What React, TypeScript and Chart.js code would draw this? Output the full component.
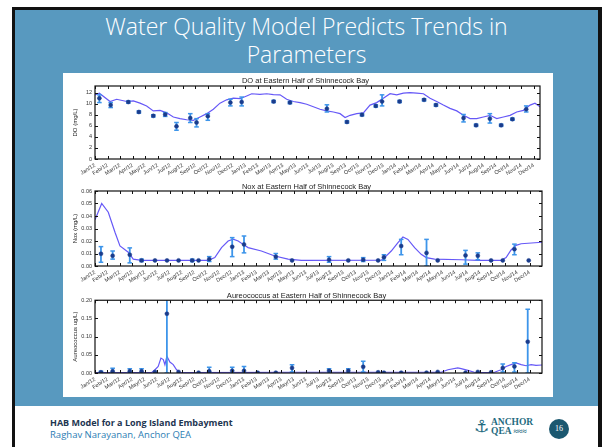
import React, { useEffect, useRef } from 'react';
import { Chart, registerables } from 'chart.js';

Chart.register(...registerables);

// ---------- tick labels ----------
const MONTHS = [
  'Jan/12', 'Feb/12', 'Mar/12', 'Apr/12', 'May/12', 'Jun/12', 'Jul/12', 'Aug/12', 'Sep/12', 'Oct/12', 'Nov/12', 'Dec/12',
  'Jan/13', 'Feb/13', 'Mar/13', 'Apr/13', 'May/13', 'Jun/13', 'Jul/13', 'Aug/13', 'Sep/13', 'Oct/13', 'Nov/13', 'Dec/13',
  'Jan/14', 'Feb/14', 'Mar/14', 'Apr/14', 'May/14', 'Jun/14', 'Jul/14', 'Aug/14', 'Sep/14', 'Oct/14', 'Nov/14', 'Dec/14',
];
const DO_Y_TICKS = [0, 2, 4, 6, 8, 10, 12];
const NOX_Y_TICKS = [0, 0.01, 0.02, 0.03, 0.04, 0.05, 0.06];
const AUR_Y_TICKS = [0, 0.05, 0.1, 0.15, 0.2];

// ---------- DO (time in months since Jan 2012) ----------
const DO_MODEL_T = [0, 0.35, 1.2, 1.73, 2.53, 3.06, 3.59, 4.12, 4.65, 5.19, 5.72, 6.25, 6.78, 7.31, 7.85, 8.38, 8.91, 9.44, 9.97, 10.5, 11.04, 11.57, 12.1, 12.5, 13.16, 13.7, 14.23, 14.76, 15.29, 15.82, 16.36, 16.89, 17.42, 17.95, 18.48, 19.02, 19.55, 19.95, 20.35, 20.88, 21.41, 21.94, 22.47, 23.0, 23.54, 24.07, 24.6, 25.13, 25.66, 26.2, 26.73, 27.26, 27.79, 28.32, 28.86, 29.39, 29.92, 30.45, 30.98, 31.52, 32.05, 32.58, 33.11, 33.64, 34.18, 34.71, 35.1, 35.5];
const DO_MODEL_V = [11.6, 11.9, 10.4, 10.8, 10.4, 10.5, 10.1, 9.6, 8.7, 8.8, 8.35, 7.6, 7.3, 7.1, 7.0, 7.6, 8.2, 9.0, 10.1, 10.7, 11.0, 10.9, 11.4, 11.8, 11.7, 11.8, 11.65, 11.6, 10.8, 10.4, 10.2, 9.9, 9.45, 9.0, 8.7, 8.5, 8.2, 7.5, 7.9, 8.2, 8.35, 9.75, 10.2, 11.0, 11.8, 11.6, 11.9, 12.0, 11.9, 11.8, 11.0, 10.4, 9.75, 9.15, 8.7, 7.9, 7.3, 7.3, 7.6, 7.9, 7.3, 7.6, 7.9, 8.5, 8.8, 9.75, 10.1, 9.45];
const DO_OBS_T = [0.35, 1.25, 2.66, 3.5, 4.65, 5.6, 6.5, 7.6, 8.1, 9.0, 10.8, 11.7, 14.25, 15.55, 18.5, 20.1, 21.3, 22.4, 22.9, 24.3, 26.25, 27.2, 29.4, 30.4, 31.5, 32.4, 33.3, 34.4];
const DO_OBS_V = [11.0, 9.75, 10.3, 8.5, 7.8, 8.05, 5.9, 7.4, 6.6, 7.75, 10.2, 10.3, 10.4, 10.2, 9.1, 6.7, 8.0, 9.6, 10.4, 10.4, 10.7, 9.75, 7.4, 6.1, 7.3, 6.1, 7.2, 9.0];
const DO_OBS_LO = [10.2, 9.3, 10.1, 8.3, 7.6, 7.7, 5.2, 6.6, 5.8, 7.0, 9.6, 9.6, 10.2, 10.0, 8.5, 6.5, 7.8, 9.4, 9.6, 10.2, 10.5, 9.55, 6.7, 5.9, 6.5, 5.9, 7.0, 8.5];
const DO_OBS_HI = [11.6, 10.2, 10.5, 8.7, 8.0, 8.4, 6.6, 8.2, 7.3, 8.2, 10.8, 11.2, 10.6, 10.4, 9.8, 6.9, 8.2, 9.8, 11.6, 10.6, 10.9, 9.95, 8.05, 6.3, 8.2, 6.3, 7.4, 9.6];

// ---------- NOx ----------
const NOX_MODEL_T = [0, 0.54, 1.07, 1.61, 2.01, 2.68, 3.08, 3.75, 9.12, 9.65, 10.19, 10.72, 11.13, 11.53, 11.93, 12.33, 13.4, 14.48, 15.55, 16.62, 23.06, 23.32, 23.86, 24.4, 24.8, 25.2, 25.74, 26.27, 26.68, 27.35, 29.49, 30.83, 32.71, 33.11, 33.51, 33.91, 34.32, 36];
const NOX_MODEL_V = [0.037, 0.05, 0.043, 0.027, 0.016, 0.011, 0.0055, 0.0045, 0.0045, 0.0067, 0.0147, 0.02, 0.0215, 0.02, 0.0173, 0.0147, 0.012, 0.008, 0.0055, 0.0045, 0.0047, 0.0067, 0.012, 0.0187, 0.0232, 0.0213, 0.0147, 0.0093, 0.0067, 0.0055, 0.005, 0.0045, 0.0045, 0.0067, 0.0128, 0.0165, 0.0178, 0.019];
const NOX_OBS_T = [0.48, 1.42, 2.8, 3.75, 4.83, 5.8, 6.73, 7.83, 8.34, 9.2, 11.05, 12.0, 14.56, 15.87, 18.85, 20.4, 21.6, 22.8, 23.27, 24.66, 26.7, 27.6, 29.84, 30.83, 31.9, 32.84, 33.78, 34.93];
const NOX_OBS_V = [0.0098, 0.0082, 0.009, 0.0045, 0.0045, 0.0045, 0.0045, 0.0045, 0.0045, 0.0055, 0.0154, 0.0173, 0.0075, 0.0045, 0.005, 0.0045, 0.005, 0.0045, 0.007, 0.016, 0.0105, 0.0045, 0.0085, 0.0082, 0.0045, 0.0045, 0.0135, 0.0045];
const NOX_OBS_LO = [0.003, 0.0055, 0.0025, 0.0035, null, null, null, 0.0035, null, 0.0036, 0.0075, 0.0105, 0.0055, null, 0.003, null, 0.0036, null, 0.0045, 0.009, 0, null, 0.0015, 0.005, null, null, 0.009, null];
const NOX_OBS_HI = [0.0155, 0.012, 0.0145, 0.0055, null, null, null, 0.0055, null, 0.0075, 0.0227, 0.024, 0.01, null, 0.0075, null, 0.0067, null, 0.009, 0.0213, 0.0213, null, 0.0125, 0.0105, null, null, 0.0175, null];

// ---------- Aureococcus ----------
const AUR_MODEL_T = [0, 4.56, 4.83, 5.09, 5.31, 5.5, 5.63, 5.79, 6.03, 6.3, 6.57, 6.84, 7.24, 15.82, 27.88, 28.42, 29.22, 29.49, 30.03, 30.56, 31.1, 32.17, 32.71, 33.11, 33.51, 33.91, 34.32, 34.72, 35.12, 35.52, 36];
const AUR_MODEL_V = [0.001, 0.001, 0.009, 0.018, 0.041, 0.037, 0.023, 0.046, 0.03, 0.023, 0.009, 0.002, 0.001, 0.002, 0.002, 0.009, 0.014, 0.012, 0.007, 0.002, 0.001, 0.002, 0.009, 0.018, 0.023, 0.028, 0.023, 0.02, 0.023, 0.021, 0.022];
const AUR_OBS_T = [0.48, 1.42, 2.8, 3.75, 4.83, 5.79, 6.73, 8.34, 9.2, 11.05, 12.0, 13.1, 14.56, 15.87, 18.85, 20.4, 21.6, 22.8, 23.27, 24.66, 26.7, 27.6, 29.84, 30.83, 31.9, 32.84, 33.78, 34.85];
const AUR_OBS_V = [0.002, 0.005, 0.005, 0.005, 0.003, 0.163, 0.003, 0.001, 0.005, 0.006, 0.006, 0.001, 0.001, 0.014, 0.006, 0.006, 0.017, 0.002, 0.001, 0.001, 0.001, 0.003, 0.001, 0.003, 0.002, 0.014, 0.018, 0.086];
const AUR_OBS_LO = [0, 0, 0, 0, null, 0, null, null, 0, 0, 0, null, null, 0.003, 0, 0, 0.003, null, null, null, null, null, null, null, null, 0.003, 0.003, 0];
const AUR_OBS_HI = [0.005, 0.013, 0.012, 0.012, null, 0.21, null, null, 0.016, 0.016, 0.018, null, null, 0.023, 0.012, 0.012, 0.032, null, null, null, null, null, null, null, null, 0.025, 0.028, 0.175];

const FONT = "'Liberation Sans', Arial, sans-serif";
const MODEL_COLOR = '#6658f7';
const ERR_COLOR = '#3d95ea';
const OBS_COLOR = '#1a3c8c';

const framePlugin = {
  id: 'frame',
  afterDraw(chart: any) {
    const { ctx, chartArea: a, scales } = chart;
    ctx.save();
    ctx.strokeStyle = '#111';
    ctx.lineWidth = 1.2;
    ctx.strokeRect(a.left, a.top, a.right - a.left, a.bottom - a.top);
    ctx.lineWidth = 1;
    ctx.beginPath();
    const xs = scales.x;
    const ys = scales.y;
    xs.ticks.forEach((t: any) => {
      const px = Math.round(xs.getPixelForValue(t.value)) + 0.5;
      ctx.moveTo(px, a.bottom);
      ctx.lineTo(px, a.bottom - 3);
      ctx.moveTo(px, a.top);
      ctx.lineTo(px, a.top + 3);
    });
    ys.ticks.forEach((t: any) => {
      const py = Math.round(ys.getPixelForValue(t.value)) + 0.5;
      ctx.moveTo(a.left, py);
      ctx.lineTo(a.left + 3, py);
      ctx.moveTo(a.right, py);
      ctx.lineTo(a.right - 3, py);
    });
    ctx.stroke();
    ctx.restore();
  },
};

function pts(t: number[], v: number[]) {
  return t.map((x, i) => ({ x, y: v[i] }));
}

function errPts(t: number[], lo: (number | null)[], hi: (number | null)[]) {
  const out: any[] = [];
  t.forEach((x, i) => {
    if (lo[i] == null || hi[i] == null) return;
    out.push({ x, y: lo[i] }, { x, y: hi[i] }, { x, y: null });
  });
  return out;
}

type Spec = {
  title: string;
  yTitle: string;
  yTicks: number[];
  yMax: number;
  xMax: number;
  decimals: number;
  modelT: number[];
  modelV: number[];
  obsT: number[];
  obsV: number[];
  obsLo: (number | null)[];
  obsHi: (number | null)[];
  titlePadTop: number;
  titlePadBottom: number;
  padRight: number;
  xAxisHeight: number;
};

function ChartPanel({ spec, top, height }: { spec: Spec; top: number; height: number }) {
  const ref = useRef<HTMLCanvasElement | null>(null);
  useEffect(() => {
    if (!ref.current) return;
    const chart = new Chart(ref.current, {
      type: 'line',
      data: {
        datasets: [
          {
            label: 'obs',
            data: pts(spec.obsT, spec.obsV),
            showLine: false,
            pointRadius: 2,
            pointBackgroundColor: OBS_COLOR,
            pointBorderColor: OBS_COLOR,
            pointBorderWidth: 0.5,
          },
          {
            label: 'err',
            data: errPts(spec.obsT, spec.obsLo, spec.obsHi),
            borderColor: ERR_COLOR,
            borderWidth: 1.8,
            spanGaps: false,
            pointStyle: 'line',
            pointRadius: 2.3,
            pointBorderColor: ERR_COLOR,
            pointBorderWidth: 1.5,
          },
          {
            label: 'model',
            data: pts(spec.modelT, spec.modelV),
            borderColor: MODEL_COLOR,
            borderWidth: 1.2,
            pointRadius: 0,
            tension: 0,
          },
        ],
      } as any,
      options: {
        animation: false,
        responsive: false,
        events: [],
        layout: { padding: { left: 8, right: spec.padRight, top: 0, bottom: 0 } },
        plugins: {
          legend: { display: false },
          tooltip: { enabled: false },
          title: {
            display: true,
            text: spec.title,
            color: '#222',
            font: { family: FONT, size: 7.5, weight: 'normal', lineHeight: 1 },
            padding: { top: spec.titlePadTop, bottom: spec.titlePadBottom },
          },
        },
        scales: {
          x: {
            type: 'linear',
            min: 0,
            max: spec.xMax,
            grid: { display: false, drawTicks: false },
            border: { display: false },
            afterBuildTicks: (s: any) => {
              s.ticks = MONTHS.map((_, i) => ({ value: i }));
            },
            afterFit: (s: any) => {
              s.height = spec.xAxisHeight;
            },
            ticks: {
              autoSkip: false,
              maxRotation: 32,
              minRotation: 32,
              padding: 3,
              color: '#333',
              font: { family: FONT, size: 5.5 },
              callback: (v: any) => MONTHS[v] ?? '',
            },
          },
          y: {
            type: 'linear',
            min: 0,
            max: spec.yMax,
            grid: { display: false, drawTicks: false },
            border: { display: false },
            afterBuildTicks: (s: any) => {
              s.ticks = spec.yTicks.map((value) => ({ value }));
            },
            afterFit: (s: any) => {
              s.width = 24;
            },
            ticks: {
              padding: 3,
              color: '#333',
              font: { family: FONT, size: 5.5 },
              callback: (v: any) => Number(v).toFixed(spec.decimals),
            },
            title: {
              display: true,
              text: spec.yTitle,
              color: '#222',
              font: { family: FONT, size: 6, lineHeight: 1 },
              padding: { top: 1, bottom: 0 },
            },
          },
        },
      } as any,
      plugins: [framePlugin],
    });
    return () => chart.destroy();
  }, [spec]);
  return (
    <canvas
      ref={ref}
      width={489}
      height={height}
      style={{ position: 'absolute', left: 63, top, width: 489, height }}
    />
  );
}

const DO_SPEC: Spec = {
  title: 'DO at Eastern Half of Shinnecock Bay',
  yTitle: 'DO (mg/L)',
  yTicks: DO_Y_TICKS,
  yMax: 13.2,
  xMax: 35.5,
  decimals: 0,
  modelT: DO_MODEL_T,
  modelV: DO_MODEL_V,
  obsT: DO_OBS_T,
  obsV: DO_OBS_V,
  obsLo: DO_OBS_LO,
  obsHi: DO_OBS_HI,
  titlePadTop: 4,
  titlePadBottom: 1.5,
  padRight: 12,
  xAxisHeight: 21,
};

const NOX_SPEC: Spec = {
  title: 'Nox at Eastern Half of Shinnecock Bay',
  yTitle: 'Nox (mg/L)',
  yTicks: NOX_Y_TICKS,
  yMax: 0.06,
  xMax: 36,
  decimals: 2,
  modelT: NOX_MODEL_T,
  modelV: NOX_MODEL_V,
  obsT: NOX_OBS_T,
  obsV: NOX_OBS_V,
  obsLo: NOX_OBS_LO,
  obsHi: NOX_OBS_HI,
  titlePadTop: 3.5,
  titlePadBottom: 0,
  padRight: 10,
  xAxisHeight: 21,
};

const AUR_SPEC: Spec = {
  title: 'Aureococcus at Eastern Half of Shinnecock Bay',
  yTitle: 'Aureococcus ug/L)',
  yTicks: AUR_Y_TICKS,
  yMax: 0.2,
  xMax: 36,
  decimals: 2,
  modelT: AUR_MODEL_T,
  modelV: AUR_MODEL_V,
  obsT: AUR_OBS_T,
  obsV: AUR_OBS_V,
  obsLo: AUR_OBS_LO,
  obsHi: AUR_OBS_HI,
  titlePadTop: 4.75,
  titlePadBottom: 1,
  padRight: 10,
  xAxisHeight: 21,
};

export default function App() {
  return (
    <div
      style={{
        position: 'fixed',
        left: 0,
        top: 0,
        width: 602,
        height: 447,
        background: '#ffffff',
        overflow: 'hidden',
      }}
    >
      {/* black frame */}
      <div style={{ position: 'absolute', left: 12, top: 7, width: 590, height: 440, background: '#111' }} />
      {/* blue slide area */}
      <div style={{ position: 'absolute', left: 15, top: 10, width: 583, height: 396, background: '#5899bf' }} />
      {/* footer white */}
      <div style={{ position: 'absolute', left: 15, top: 406, width: 583, height: 41, background: '#ffffff' }} />
      {/* slide title */}
      <div
        style={{
          position: 'absolute',
          left: 15,
          width: 583,
          top: 12,
          textAlign: 'center',
          color: '#ffffff',
          fontFamily: "'Open Sans', sans-serif",
          fontWeight: 300,
          fontSize: 23,
          lineHeight: '28px',
        }}
      >
        <div>Water Quality Model Predicts Trends in</div>
        <div>Parameters</div>
      </div>
      {/* white chart panel */}
      <div style={{ position: 'absolute', left: 63, top: 73, width: 490, height: 324, background: '#ffffff' }} />
      <ChartPanel spec={DO_SPEC} top={73} height={107} />
      <ChartPanel spec={NOX_SPEC} top={180} height={107} />
      <ChartPanel spec={AUR_SPEC} top={287} height={107} />
      {/* footer text */}
      <div
        style={{
          position: 'absolute',
          left: 50,
          top: 417,
          fontFamily: "'Open Sans', sans-serif",
          fontSize: 9,
          fontWeight: 700,
          color: '#1d3550',
          lineHeight: '12px',
          whiteSpace: 'nowrap',
        }}
      >
        HAB Model for a Long Island Embayment
      </div>
      <div
        style={{
          position: 'absolute',
          left: 50,
          top: 429,
          fontFamily: "'Open Sans', sans-serif",
          fontSize: 9.5,
          color: '#2c7db3',
          lineHeight: '12px',
          whiteSpace: 'nowrap',
        }}
      >
        Raghav Narayanan, Anchor QEA
      </div>
      {/* logo */}
      <div
        style={{
          position: 'absolute',
          left: 474,
          top: 416,
          fontFamily: "'DejaVu Sans', sans-serif",
          fontSize: 17,
          lineHeight: '20px',
          color: '#1f6b80',
        }}
      >
        ⚓
      </div>
      <div
        style={{
          position: 'absolute',
          left: 491,
          top: 418,
          fontFamily: "'Liberation Serif', serif",
          fontSize: 9.5,
          fontWeight: 700,
          lineHeight: '9px',
          color: '#1f6b80',
          whiteSpace: 'nowrap',
        }}
      >
        <div>ANCHOR</div>
        <div>QEA <span style={{ fontSize: 8 }}>≈≈≈</span></div>
      </div>
      {/* page number */}
      <div
        style={{
          position: 'absolute',
          left: 549,
          top: 419,
          width: 20,
          height: 20,
          borderRadius: 10,
          background: '#1b5870',
          color: '#ffffff',
          fontFamily: "'Liberation Serif', serif",
          fontSize: 8,
          lineHeight: '20px',
          textAlign: 'center',
        }}
      >
        16
      </div>
    </div>
  );
}
